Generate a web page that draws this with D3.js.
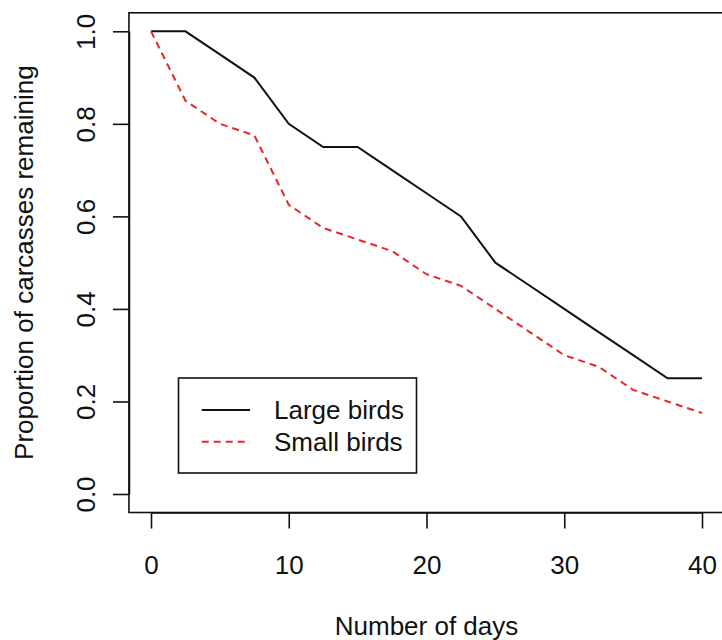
<!DOCTYPE html>
<html>
<head>
<meta charset="utf-8">
<script src="https://cdn.jsdelivr.net/npm/d3@7"></script>
<style>
  html, body { margin: 0; padding: 0; background: #fff; }
  svg { display: block; }
  text { font-family: "Liberation Sans", Arial, Helvetica, sans-serif; fill: #111; }
</style>
</head>
<body>
<svg id="chart" width="722" height="640"></svg>
<script>
// ---- data ----
const days = [0, 2.5, 5, 7.5, 10, 12.5, 15, 17.5, 20, 22.5, 25, 27.5, 30, 32.5, 35, 37.5, 40];
const largeBirds = [1, 1, 0.95, 0.9, 0.8, 0.75, 0.75, 0.7, 0.65, 0.6, 0.5, 0.45, 0.4, 0.35, 0.3, 0.25, 0.25];
const smallBirds = [1, 0.85, 0.8, 0.775, 0.625, 0.575, 0.55, 0.525, 0.475, 0.45, 0.4, 0.35, 0.3, 0.275, 0.225, 0.2, 0.175];
const xTicks = [0, 10, 20, 30, 40];
const yTicks = [0, 0.2, 0.4, 0.6, 0.8, 1.0];
const seriesNames = ["Large birds", "Small birds"];
const xTitle = "Number of days";
const yTitle = "Proportion of carcasses remaining";

// ---- layout ----
const svg = d3.select("#chart");
const x = d3.scaleLinear().domain([0, 40]).range([151, 702]);
const y = d3.scaleLinear().domain([0, 1]).range([494, 31.3]);
const FS = 26;
const boxL = x(-1.6), boxR = x(41.6), boxT = y(1.04), boxB = y(-0.04);

// plot box
svg.append("rect")
  .attr("x", boxL).attr("y", boxT)
  .attr("width", boxR - boxL).attr("height", boxB - boxT)
  .attr("fill", "none").attr("stroke", "#111").attr("stroke-width", 1.6);

// x axis
const gx = svg.append("g")
  .attr("transform", `translate(0,${boxB})`)
  .call(d3.axisBottom(x).tickValues(xTicks).tickSize(16).tickSizeOuter(0).tickFormat(d3.format("d")));
gx.select(".domain").attr("stroke", "#111").attr("stroke-width", 1.6);
gx.selectAll(".tick line").attr("stroke", "#111").attr("stroke-width", 1.6);
gx.selectAll(".tick text")
  .attr("y", 61).attr("dy", 0)
  .attr("font-size", FS).attr("fill", "#111")
  .style("font-family", "'Liberation Sans', Arial, sans-serif");

// y axis
const gy = svg.append("g")
  .attr("transform", `translate(${boxL},0)`)
  .call(d3.axisLeft(y).tickValues(yTicks).tickSize(16).tickSizeOuter(0).tickFormat(d3.format(".1f")));
gy.select(".domain").attr("stroke", "#111").attr("stroke-width", 1.6);
gy.selectAll(".tick line").attr("stroke", "#111").attr("stroke-width", 1.6);
gy.selectAll(".tick text")
  .attr("x", 0).attr("y", 0).attr("dy", 0)
  .attr("text-anchor", "middle")
  .attr("transform", "translate(-34,0) rotate(-90)")
  .attr("font-size", FS).attr("fill", "#111")
  .style("font-family", "'Liberation Sans', Arial, sans-serif");

// axis titles
svg.append("text")
  .attr("x", (boxL + boxR) / 2).attr("y", 635)
  .attr("text-anchor", "middle").attr("font-size", FS)
  .text(xTitle);
svg.append("text")
  .attr("transform", `translate(33,${(boxT + boxB) / 2}) rotate(-90)`)
  .attr("text-anchor", "middle").attr("font-size", FS)
  .text(yTitle);

// lines
const line = d3.line().x((d, i) => x(days[i])).y(d => y(d));
svg.append("path").datum(largeBirds)
  .attr("d", line).attr("fill", "none")
  .attr("stroke", "#111").attr("stroke-width", 2);
svg.append("path").datum(smallBirds)
  .attr("d", line).attr("fill", "none")
  .attr("stroke", "#e8262a").attr("stroke-width", 2)
  .attr("stroke-dasharray", "7,5");

// legend
const lg = svg.append("g");
lg.append("rect")
  .attr("x", 178.5).attr("y", 378)
  .attr("width", 238).attr("height", 95)
  .attr("fill", "#fff").attr("stroke", "#111").attr("stroke-width", 1.6);
const legendItems = [
  { name: seriesNames[0], color: "#111", dash: null, yy: 410 },
  { name: seriesNames[1], color: "#e8262a", dash: "7,5", yy: 441.7 }
];
legendItems.forEach(it => {
  lg.append("line")
    .attr("x1", 201.7).attr("x2", 250).attr("y1", it.yy).attr("y2", it.yy)
    .attr("stroke", it.color).attr("stroke-width", 2)
    .attr("stroke-dasharray", it.dash);
  lg.append("text")
    .attr("x", 274).attr("y", it.yy).attr("dy", "0.35em")
    .attr("font-size", FS).text(it.name);
});
</script>
</body>
</html>
